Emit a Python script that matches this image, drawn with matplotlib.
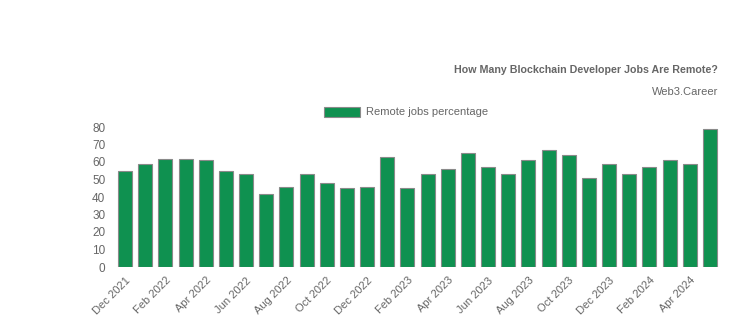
import numpy as np
import matplotlib.pyplot as plt

months = ["Dec 2021", "Jan 2022", "Feb 2022", "Mar 2022", "Apr 2022", "May 2022",
          "Jun 2022", "Jul 2022", "Aug 2022", "Sep 2022", "Oct 2022", "Nov 2022",
          "Dec 2022", "Jan 2023", "Feb 2023", "Mar 2023", "Apr 2023", "May 2023",
          "Jun 2023", "Jul 2023", "Aug 2023", "Sep 2023", "Oct 2023", "Nov 2023",
          "Dec 2023", "Jan 2024", "Feb 2024", "Mar 2024", "Apr 2024", "May 2024"]
remote_pct = [55, 59, 62, 62, 61, 55, 53, 42, 46, 53, 48, 45, 46, 63, 45,
              53, 56, 65, 57, 53, 61, 67, 64, 51, 59, 53, 57, 61, 59, 79]
yticks = [0, 10, 20, 30, 40, 50, 60, 70, 80]

plt.rcParams['font.family'] = ['Liberation Sans', 'DejaVu Sans']

grey = "#666666"
green = "#0f9150"

fig = plt.figure(figsize=(7.43, 3.36), dpi=100)
ax = fig.add_axes([115 / 743, 69 / 336, 605 / 743, 140 / 336])

x = np.arange(len(months))
ax.bar(x, remote_pct, width=0.7, color=green, edgecolor="#8a8a8a", linewidth=0.8,
       label="Remote jobs percentage")

ax.set_xlim(-0.5, len(months) - 0.5)
ax.set_ylim(0, 80)
ax.set_yticks(yticks)
ax.set_yticklabels([str(v) for v in yticks], color=grey, fontsize=8.5)
ax.set_xticks(x[::2])
ax.set_xticklabels(months[::2], rotation=45, ha="right", rotation_mode="anchor",
                   color=grey, fontsize=8)
ax.tick_params(length=0, pad=7)
ax.tick_params(axis="x", pad=6)
for s in ax.spines.values():
    s.set_visible(False)

fig.text(718 / 743, 1 - 70 / 336, "How Many Blockchain Developer Jobs Are Remote?",
         ha="right", va="center", fontsize=7.7, fontweight="bold", color=grey)
fig.text(718 / 743, 1 - 92 / 336, "Web3.Career", ha="right", va="center",
         fontsize=8, color=grey)

# legend drawn by hand to match position
fig.patches.append(plt.Rectangle((324 / 743, 1 - 117 / 336), 36 / 743, 10 / 336,
                                 transform=fig.transFigure, facecolor=green,
                                 edgecolor="#8a8a8a", linewidth=0.8))
fig.text(366 / 743, 1 - 112 / 336, "Remote jobs percentage", ha="left", va="center",
         fontsize=8, color=grey)

fig.savefig("out.png", dpi=100)
